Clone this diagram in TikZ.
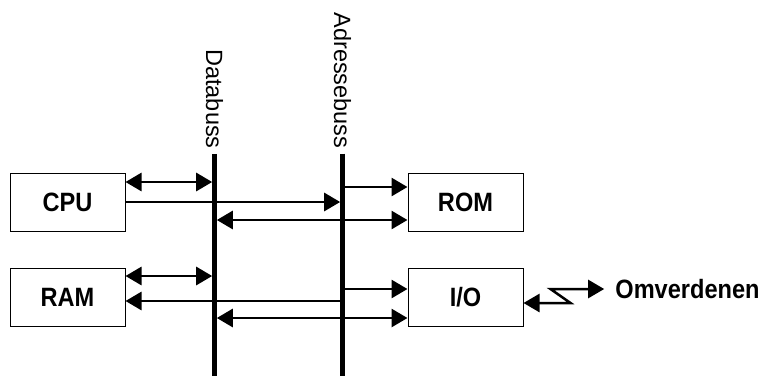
\documentclass[tikz,border=0pt]{standalone}
\usepackage{fontspec}
\setmainfont{Liberation Sans}
\newfontfamily\unitfont[FakeStretch=0.89]{Liberation Sans}
\usetikzlibrary{arrows.meta}

\begin{document}
\begin{tikzpicture}[x=1pt,y=-1pt,
  unit/.style={draw,line width=1pt,minimum width=115pt,minimum height=58pt,
    font=\unitfont\fontsize{26.5}{30}\selectfont\bfseries},
  buslab/.style={rotate=-90,inner sep=5pt,font=\fontsize{23.5}{28}\selectfont},
  bus/.style={line width=4.6pt},
  sig/.style={line width=2.8pt,-{Triangle[length=16pt,width=18pt]}},
  bisig/.style={line width=2.8pt,{Triangle[length=16pt,width=18pt]}-{Triangle[length=16pt,width=18pt]}}]
\useasboundingbox (0,0) rectangle (763,376);

\node[unit] (cpu) at (67.5,202) {CPU};
\node[unit] (ram) at (67.5,297.5) {RAM};
\node[unit] (rom) at (465.5,202) {ROM};
\node[unit] (io) at (465.5,297.5) {I/O};

\node[buslab] (dlab) at (214.5,99) {Databuss};
\node[buslab] (alab) at (342.5,80.5) {Adressebuss};
\coordinate (bunn) at (0,376);
\draw[bus] (dlab.east) -- (dlab.east |- bunn);
\draw[bus] (alab.east) -- (alab.east |- bunn);

% databuss
\foreach \u/\dy in {cpu/20,ram/21.5}
  \draw[bisig,shorten >=2.3pt] ([yshift=\dy pt]\u.east) -- ([yshift=\dy pt]\u.east -| dlab);
\foreach \u/\dy in {rom/-18,io/-20.5}
  \draw[bisig,shorten <=2.3pt] ([yshift=\dy pt]\u.west -| dlab) -- ([yshift=\dy pt]\u.west);

% adressebuss
\draw[sig,shorten >=2.3pt] (cpu.east) -- (cpu.east -| alab);
\draw[sig,shorten <=2.3pt] ([yshift=-3.5pt]ram.east -| alab) -- ([yshift=-3.5pt]ram.east);
\foreach \u/\dy in {rom/15,io/8.5}
  \draw[sig,shorten <=2.3pt] ([yshift=\dy pt]\u.west -| alab) -- ([yshift=\dy pt]\u.west);

% omverdenen
\node[inner xsep=11pt,font=\unitfont\fontsize{26.5}{30}\selectfont\bfseries] (omv) at (687.5,289) {Omverdenen};
\draw[bisig,line width=2.5pt] ([yshift=-5.5pt]io.east) -- ++(47,0) -- ++(-20,-14) -- (omv.west);
\end{tikzpicture}
\end{document}
